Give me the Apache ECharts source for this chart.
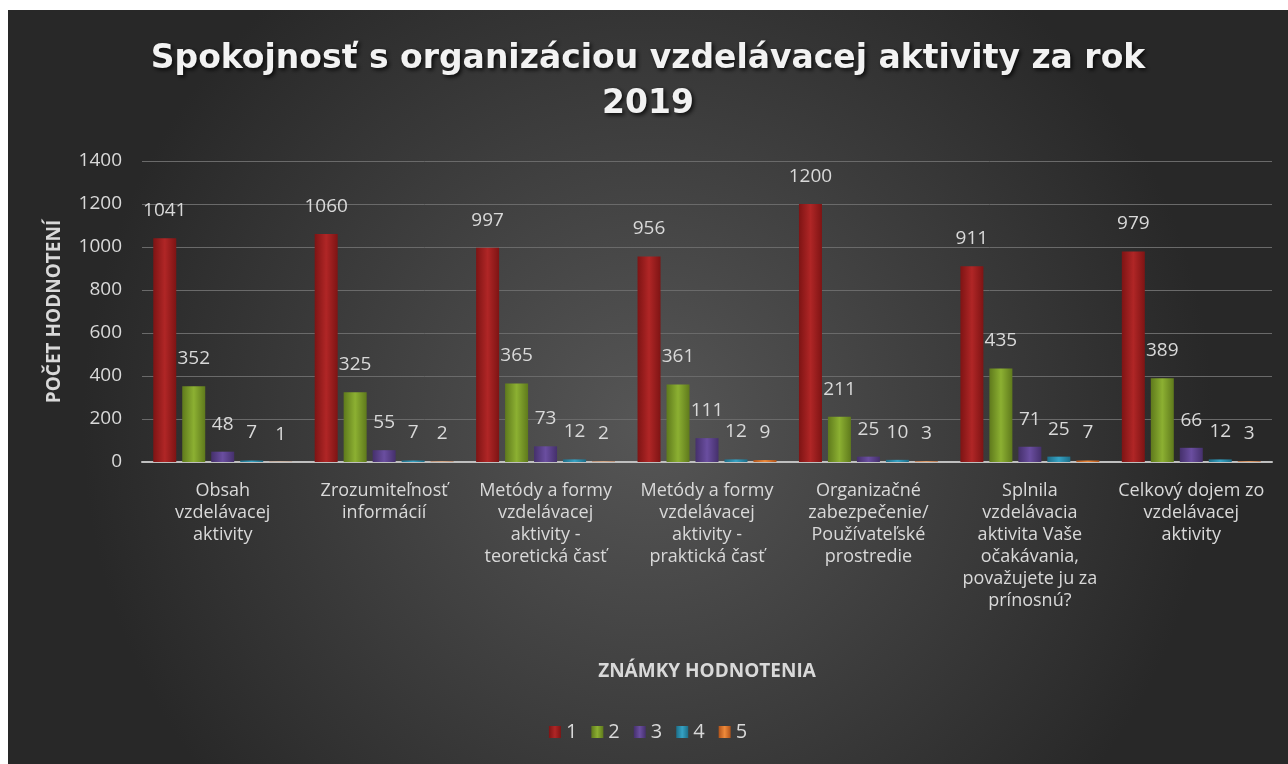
<!DOCTYPE html>
<html>
<head>
<meta charset="utf-8">
<script src="https://cdn.jsdelivr.net/npm/echarts@6/dist/echarts.min.js"></script>
<style>
  html, body { margin: 0; padding: 0; background: #fff; }
  #main { position: absolute; left: 8px; top: 10px; width: 1280px; height: 754px; }
</style>
</head>
<body>
<div id="main"></div>
<script>
var categories = [
    'Obsah\nvzdelávacej\naktivity',
    'Zrozumiteľnosť\ninformácií',
    'Metódy a formy\nvzdelávacej\naktivity -\nteoretická časť',
    'Metódy a formy\nvzdelávacej\naktivity -\npraktická časť',
    'Organizačné\nzabezpečenie/\nPoužívateľské\nprostredie',
    'Splnila\nvzdelávacia\naktivita Vaše\nočakávania,\npovažujete ju za\nprínosnú?',
    'Celkový dojem zo\nvzdelávacej\naktivity'
];
var seriesNames = ['1', '2', '3', '4', '5'];
var znamka1 = [1041, 1060, 997, 956, 1200, 911, 979];
var znamka2 = [352, 325, 365, 361, 211, 435, 389];
var znamka3 = [48, 55, 73, 111, 25, 71, 66];
var znamka4 = [7, 7, 12, 12, 10, 25, 12];
var znamka5 = [1, 2, 2, 9, 3, 7, 3];
var yTicks = [0, 200, 400, 600, 800, 1000, 1200, 1400];

var values = [znamka1, znamka2, znamka3, znamka4, znamka5];
// farby stlpcov: okraj, stred
var colors = [
    ['#7e1414', '#b02626'],
    ['#5f7a1c', '#8cb032'],
    ['#45306c', '#6a4ea0'],
    ['#1d6e88', '#35a2c4'],
    ['#b0531a', '#ef8a3a']
];

var myChart = echarts.init(document.getElementById('main'));

var series = values.map(function (v, i) {
    return {
        name: seriesNames[i],
        type: 'bar',
        data: v,
        barWidth: 23,
        barGap: '26%',
        itemStyle: {
            color: new echarts.graphic.LinearGradient(0, 0, 1, 0, [
                { offset: 0, color: colors[i][0] },
                { offset: 0.5, color: colors[i][1] },
                { offset: 1, color: colors[i][0] }
            ])
        },
        label: {
            show: true,
            position: 'top',
            distance: 18,
            color: '#d9d9d9',
            fontSize: 19,
            fontFamily: 'Open Sans'
        }
    };
});

var option = {
    backgroundColor: new echarts.graphic.RadialGradient(0.5, 0.55, 0.75, [
        { offset: 0, color: '#565656' },
        { offset: 1, color: '#282828' }
    ]),
    title: {
        text: 'Spokojnosť s organizáciou vzdelávacej aktivity za rok\n2019',
        left: 'center',
        top: 22,
        textStyle: {
            color: '#f2f2f2',
            fontFamily: 'DejaVu Sans',
            fontWeight: 'bold',
            fontSize: 33,
            lineHeight: 45,
            textShadowColor: 'rgba(0,0,0,0.8)',
            textShadowBlur: 4,
            textShadowOffsetX: 2,
            textShadowOffsetY: 2
        }
    },
    legend: {
        data: seriesNames,
        bottom: 17,
        left: 'center',
        itemWidth: 12,
        itemHeight: 12,
        itemGap: 14,
        icon: 'rect',
        textStyle: { color: '#d9d9d9', fontSize: 20, fontFamily: 'Open Sans' }
    },
    grid: {
        left: 134,
        right: 16,
        top: 151,
        bottom: 302
    },
    xAxis: {
        type: 'category',
        data: categories,
        name: 'ZNÁMKY HODNOTENIA',
        nameLocation: 'middle',
        nameGap: 200,
        nameTextStyle: { color: '#d9d9d9', fontSize: 19, fontWeight: 'bold', fontFamily: 'Open Sans' },
        axisLine: { lineStyle: { color: '#bfbfbf', width: 2 } },
        axisTick: { show: false },
        axisLabel: {
            color: '#d9d9d9',
            fontSize: 18,
            lineHeight: 22,
            margin: 18,
            interval: 0,
            fontFamily: 'Open Sans'
        }
    },
    yAxis: {
        type: 'value',
        min: yTicks[0],
        max: yTicks[yTicks.length - 1],
        interval: yTicks[1] - yTicks[0],
        name: 'POČET HODNOTENÍ',
        nameLocation: 'middle',
        nameGap: 78,
        nameRotate: 90,
        nameTextStyle: { color: '#d9d9d9', fontSize: 19, fontWeight: 'bold', fontFamily: 'Open Sans' },
        axisLine: { show: false },
        axisTick: { show: false },
        axisLabel: {
            color: '#d9d9d9',
            fontSize: 19,
            margin: 20,
            fontFamily: 'Open Sans',
            formatter: function (v) { return String(v); }
        },
        splitLine: { lineStyle: { color: '#6a6a6a', width: 1 } }
    },
    series: series
};

myChart.setOption(option);
</script>
</body>
</html>
